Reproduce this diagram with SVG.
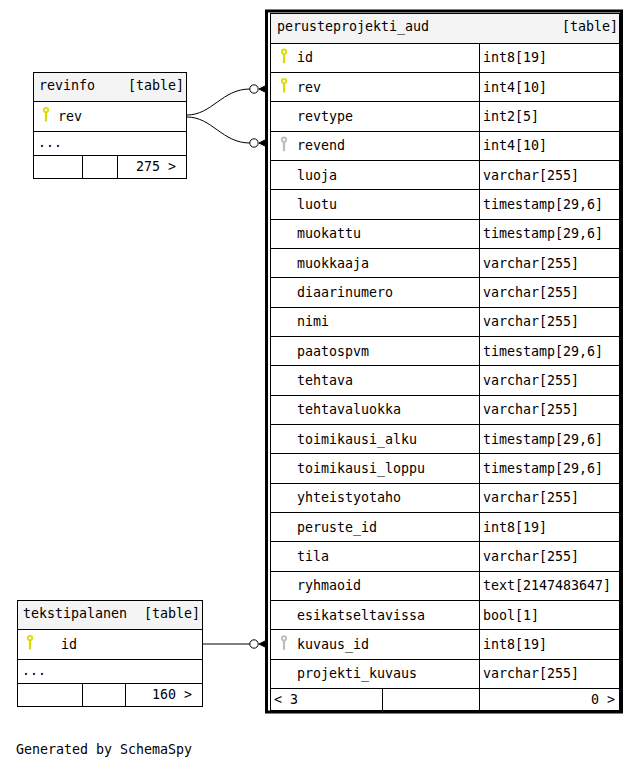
<svg xmlns="http://www.w3.org/2000/svg" xmlns:xlink="http://www.w3.org/1999/xlink" width="639" height="769" viewBox="0 0 639 769">
<style>
text{font-family:"DejaVu Sans Mono","Liberation Mono",monospace;font-size:13.3px;fill:#000}
.hdr{fill:#f4f4f4;stroke:none}
.ln{stroke:#000;stroke-width:1;fill:none}
.box{fill:#fff;stroke:#000;stroke-width:1}
.end{text-anchor:end}
.conn{stroke:#000;stroke-width:1;fill:none}
.odot{fill:#fff;stroke:#000;stroke-width:1}
.crow{fill:#000;stroke:#000;stroke-width:1}
</style>
<defs>
<g id="keyY"><circle cx="0" cy="-6" r="2.2" fill="none" stroke="#dcdc00" stroke-width="1.8"/><rect x="-1.1" y="-4" width="2.2" height="9.5" fill="#dcdc00"/></g>
<g id="keyG"><circle cx="0" cy="-6" r="2.2" fill="none" stroke="#bcbcbc" stroke-width="1.8"/><rect x="-1.1" y="-4" width="2.2" height="9.5" fill="#bcbcbc"/></g>
<g id="arr"><polygon class="crow" points="-8,0 -1,-3.5 -1,3.5"/><circle class="odot" cx="-13" cy="0" r="4.2"/></g>
</defs>
<rect width="639" height="769" fill="#fff"/>

<g id="connectors">
<path class="conn" d="M187,115 C212,115 222,89 250,89"/>
<path class="conn" d="M187,117 C212,117 222,143 250,143"/>
<path class="conn" d="M202,644 L250,644"/>
<use xlink:href="#arr" x="267" y="89"/>
<use xlink:href="#arr" x="267" y="143"/>
<use xlink:href="#arr" x="267" y="644"/>
</g>

<g id="revinfo">
<rect class="box" x="33.5" y="72.5" width="153" height="106"/>
<rect class="hdr" x="34" y="73" width="152" height="28"/>
<line class="ln" x1="33.5" y1="101.5" x2="186.5" y2="101.5"/>
<line class="ln" x1="33.5" y1="131.5" x2="186.5" y2="131.5"/>
<line class="ln" x1="33.5" y1="155.5" x2="186.5" y2="155.5"/>
<line class="ln" x1="82.5" y1="155.5" x2="82.5" y2="178.5"/>
<line class="ln" x1="117.5" y1="155.5" x2="117.5" y2="178.5"/>
<text x="39" y="90">revinfo</text>
<text class="end" x="184" y="90">[table]</text>
<use xlink:href="#keyY" x="46" y="116"/>
<text x="58" y="120.5">rev</text>
<text x="38" y="147">...</text>
<text class="end" x="176" y="171">275 &gt;</text>
</g>

<g id="tekstipalanen">
<rect class="box" x="17.5" y="600.5" width="185" height="106"/>
<rect class="hdr" x="18" y="601" width="184" height="28"/>
<line class="ln" x1="17.5" y1="629.5" x2="202.5" y2="629.5"/>
<line class="ln" x1="17.5" y1="659.5" x2="202.5" y2="659.5"/>
<line class="ln" x1="17.5" y1="683.5" x2="202.5" y2="683.5"/>
<line class="ln" x1="82.5" y1="683.5" x2="82.5" y2="706.5"/>
<line class="ln" x1="125.5" y1="683.5" x2="125.5" y2="706.5"/>
<text x="23" y="618">tekstipalanen</text>
<text class="end" x="200" y="618">[table]</text>
<use xlink:href="#keyY" x="30" y="644"/>
<text x="61" y="648.5">id</text>
<text x="22" y="675">...</text>
<text class="end" x="192" y="699">160 &gt;</text>
</g>

<g id="perusteprojekti_aud">
<rect x="266.5" y="11" width="355" height="701" fill="#fff" stroke="#000" stroke-width="3"/>
<rect class="box" x="270.5" y="13.5" width="349" height="697"/>
<rect class="hdr" x="271" y="14" width="348" height="29"/>
<text x="277" y="31">perusteprojekti_aud</text>
<text class="end" x="618" y="31">[table]</text>
<g class="ln">
<line x1="270.5" y1="43.5" x2="619.5" y2="43.5"/>
<line x1="270.5" y1="72.5" x2="619.5" y2="72.5"/>
<line x1="270.5" y1="101.5" x2="619.5" y2="101.5"/>
<line x1="270.5" y1="131.5" x2="619.5" y2="131.5"/>
<line x1="270.5" y1="160.5" x2="619.5" y2="160.5"/>
<line x1="270.5" y1="189.5" x2="619.5" y2="189.5"/>
<line x1="270.5" y1="219.5" x2="619.5" y2="219.5"/>
<line x1="270.5" y1="248.5" x2="619.5" y2="248.5"/>
<line x1="270.5" y1="277.5" x2="619.5" y2="277.5"/>
<line x1="270.5" y1="307.5" x2="619.5" y2="307.5"/>
<line x1="270.5" y1="336.5" x2="619.5" y2="336.5"/>
<line x1="270.5" y1="365.5" x2="619.5" y2="365.5"/>
<line x1="270.5" y1="395.5" x2="619.5" y2="395.5"/>
<line x1="270.5" y1="424.5" x2="619.5" y2="424.5"/>
<line x1="270.5" y1="453.5" x2="619.5" y2="453.5"/>
<line x1="270.5" y1="483.5" x2="619.5" y2="483.5"/>
<line x1="270.5" y1="512.5" x2="619.5" y2="512.5"/>
<line x1="270.5" y1="541.5" x2="619.5" y2="541.5"/>
<line x1="270.5" y1="571.5" x2="619.5" y2="571.5"/>
<line x1="270.5" y1="600.5" x2="619.5" y2="600.5"/>
<line x1="270.5" y1="629.5" x2="619.5" y2="629.5"/>
<line x1="270.5" y1="659.5" x2="619.5" y2="659.5"/>
<line x1="270.5" y1="688.5" x2="619.5" y2="688.5"/>
<line x1="479.5" y1="43.5" x2="479.5" y2="710.5"/>
<line x1="382.5" y1="688.5" x2="382.5" y2="710.5"/>
</g>
<use xlink:href="#keyY" x="284" y="57.7"/>
<use xlink:href="#keyY" x="284" y="87"/>
<use xlink:href="#keyG" x="284" y="145.7"/>
<use xlink:href="#keyG" x="284" y="644.3"/>
<text x="297" y="62.2">id</text><text x="483" y="62.2">int8[19]</text>
<text x="297" y="91.5">rev</text><text x="483" y="91.5">int4[10]</text>
<text x="297" y="120.8">revtype</text><text x="483" y="120.8">int2[5]</text>
<text x="297" y="150.2">revend</text><text x="483" y="150.2">int4[10]</text>
<text x="297" y="179.5">luoja</text><text x="483" y="179.5">varchar[255]</text>
<text x="297" y="208.8">luotu</text><text x="483" y="208.8">timestamp[29,6]</text>
<text x="297" y="238.2">muokattu</text><text x="483" y="238.2">timestamp[29,6]</text>
<text x="297" y="267.5">muokkaaja</text><text x="483" y="267.5">varchar[255]</text>
<text x="297" y="296.8">diaarinumero</text><text x="483" y="296.8">varchar[255]</text>
<text x="297" y="326.2">nimi</text><text x="483" y="326.2">varchar[255]</text>
<text x="297" y="355.5">paatospvm</text><text x="483" y="355.5">timestamp[29,6]</text>
<text x="297" y="384.8">tehtava</text><text x="483" y="384.8">varchar[255]</text>
<text x="297" y="414.2">tehtavaluokka</text><text x="483" y="414.2">varchar[255]</text>
<text x="297" y="443.5">toimikausi_alku</text><text x="483" y="443.5">timestamp[29,6]</text>
<text x="297" y="472.8">toimikausi_loppu</text><text x="483" y="472.8">timestamp[29,6]</text>
<text x="297" y="502.2">yhteistyotaho</text><text x="483" y="502.2">varchar[255]</text>
<text x="297" y="531.5">peruste_id</text><text x="483" y="531.5">int8[19]</text>
<text x="297" y="560.8">tila</text><text x="483" y="560.8">varchar[255]</text>
<text x="297" y="590.2">ryhmaoid</text><text x="483" y="590.2">text[2147483647]</text>
<text x="297" y="619.5">esikatseltavissa</text><text x="483" y="619.5">bool[1]</text>
<text x="297" y="648.8">kuvaus_id</text><text x="483" y="648.8">int8[19]</text>
<text x="297" y="678.2">projekti_kuvaus</text><text x="483" y="678.2">varchar[255]</text>
<text x="274" y="704">&lt; 3</text>
<text class="end" x="615" y="704">0 &gt;</text>
</g>

<text x="16" y="754">Generated by SchemaSpy</text>
</svg>
